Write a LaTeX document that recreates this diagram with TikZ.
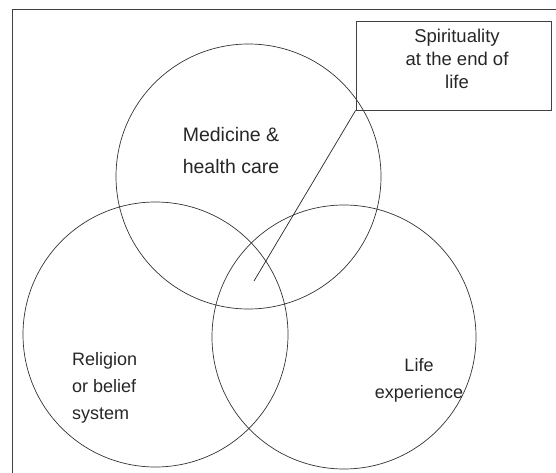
\documentclass[tikz,border=0pt]{standalone}
\usepackage{fontspec}
\setmainfont{Liberation Sans}
\begin{document}
\begin{tikzpicture}[x=1pt,y=-1pt,
  ring/.style={circle,draw=black!80,line width=0.7pt,inner sep=0pt,minimum size=#1},
  label/.style={inner sep=0pt,text=black!85},
  bigtext/.style={font=\fontsize{19.5}{32}\selectfont},
  midtext/.style={font=\fontsize{18}{27}\selectfont},
  boxtext/.style={font=\fontsize{18.5}{23}\selectfont}]
  \useasboundingbox (0,0) rectangle (556,473);
  % frame along the left and top edges
  \coordinate (fbl) at (12,473);
  \coordinate (ftl) at (12,9);
  \coordinate (ftr) at (556,9);
  \draw[black!75,line width=0.9pt] (fbl) -- (ftl) -- (ftr);
  % the three overlapping areas
  \node[ring=265pt] (med) at (248.5,176.5) {};
  \node[ring=265pt] (rel) at (155.5,334.5) {};
  \node[ring=264pt] (life) at (344,337) {};
  % labels (anchored at the baseline of the last line)
  \node[label,bigtext,align=center,anchor=base] (medtxt) at (231,173) {Medicine \&\\health care};
  \node[label,midtext,align=left,anchor=base west] (reltxt) at (72,419) {Religion\\or belief\\system};
  \node[label,midtext,align=center,anchor=base] (lifetxt) at (419,398) {Life\\experience};
  % callout box and pointer
  \node[draw=black!75,line width=0.8pt,minimum width=195pt,minimum height=89pt,inner sep=0pt] (spirit) at (453.5,65.5) {};
  \node[label,boxtext,align=center,anchor=base] (spirittxt) at (457,89) {Spirituality\\at the end of\\life};
  \coordinate (tip) at (254,281);
  \draw[black!85,line width=0.7pt] (tip) -- (spirit.south west);
\end{tikzpicture}
\end{document}
